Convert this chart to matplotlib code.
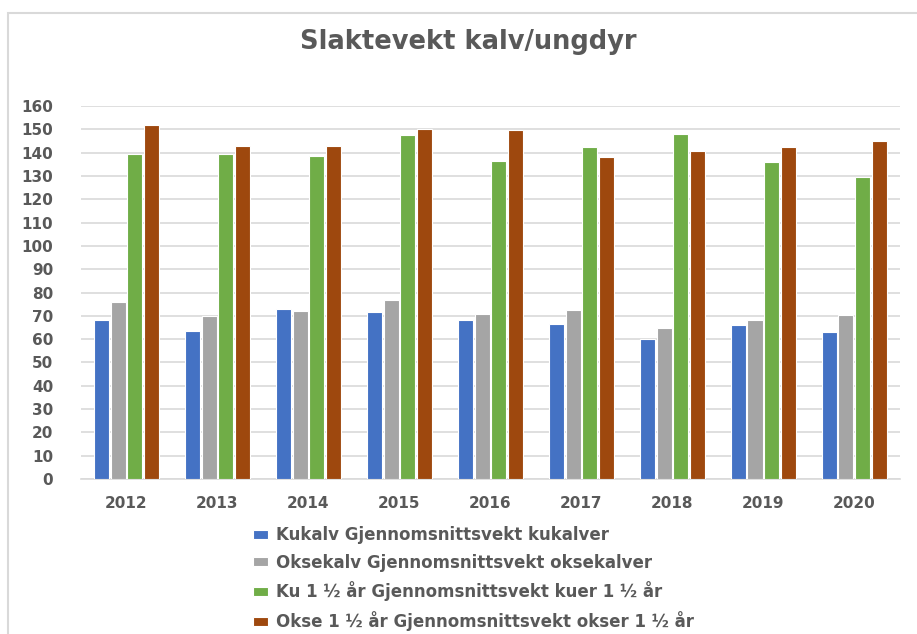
import matplotlib
matplotlib.use('Agg')
import matplotlib.pyplot as plt
import numpy as np
from matplotlib.patches import Rectangle

years = ['2012', '2013', '2014', '2015', '2016', '2017', '2018', '2019', '2020']
kukalv = [68.2, 63.6, 72.9, 71.8, 68.2, 66.5, 60.2, 65.9, 63.3]
oksekalv = [75.8, 70.1, 71.9, 76.8, 70.8, 72.5, 64.8, 68.3, 70.2]
ku_15 = [139.5, 139.5, 138.8, 147.6, 136.3, 142.6, 147.9, 136.2, 129.6]
okse_15 = [152, 143, 143, 150, 149.8, 138.1, 140.9, 142.4, 145.2]

labels = ['Kukalv Gjennomsnittsvekt kukalver',
          'Oksekalv Gjennomsnittsvekt oksekalver',
          'Ku 1 ½ år Gjennomsnittsvekt kuer 1 ½ år',
          'Okse 1 ½ år Gjennomsnittsvekt okser 1 ½ år']
colors = ['#4472C4', '#A5A5A5', '#70AD47', '#9E480E']
txt_col = '#595959'

fig = plt.figure(figsize=(9.17, 6.34), dpi=100)
ax = fig.add_axes([0.0883, 0.2445, 0.893, 0.588])

# light border of the chart area
fig.patches.append(Rectangle((8/917, -0.1), 1.2, 1 - 13/634 + 0.1, transform=fig.transFigure,
                             fill=False, edgecolor='#D9D9D9', linewidth=1.5))

pos = np.arange(len(years))
step = 0.184
w = 0.165
series = [kukalv, oksekalv, ku_15, okse_15]
for i, s in enumerate(series):
    ax.bar(pos + (i - 1.5) * step, s, width=w, color=colors[i], edgecolor='white',
           linewidth=0.8, label=labels[i], zorder=3)

ax.set_xlim(-0.5, len(years) - 0.5)
ax.set_ylim(0, 160)
ax.set_yticks(range(0, 161, 10))
ax.set_xticks(pos)
ax.set_xticklabels(years)
ax.yaxis.grid(True, color='#D9D9D9', linewidth=1.2, zorder=0)
for sp in ['top', 'right', 'left']:
    ax.spines[sp].set_visible(False)
ax.spines['bottom'].set_color('#D9D9D9')
ax.spines['bottom'].set_linewidth(1.2)
ax.tick_params(axis='both', length=0, labelsize=11, labelcolor=txt_col)
ax.tick_params(axis='y', pad=20)
ax.tick_params(axis='x', pad=12)
for t in ax.get_xticklabels() + ax.get_yticklabels():
    t.set_fontweight('bold')

fig.text(0.511, 0.933, 'Slaktevekt kalv/ungdyr', ha='center', va='center',
         fontsize=18.5, fontweight='bold', color=txt_col)

leg = fig.legend(loc='upper left', bbox_to_anchor=(253/917, 1 - 526/634), ncol=1,
                 frameon=False, fontsize=12, labelspacing=0.58,
                 handlelength=0.9, handleheight=0.45, handletextpad=0.45,
                 borderaxespad=0, borderpad=0)
for t in leg.get_texts():
    t.set_color(txt_col)
    t.set_fontweight('bold')

fig.savefig('out.png', dpi=100)
